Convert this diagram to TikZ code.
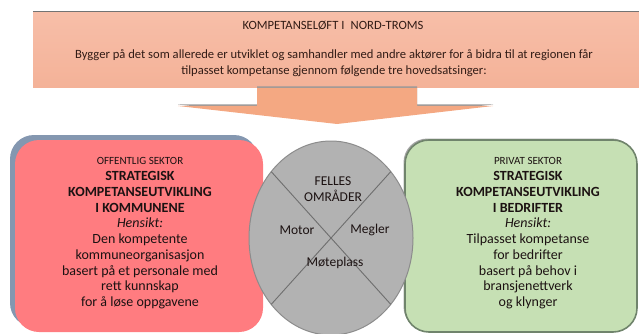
\documentclass[tikz,border=0pt]{standalone}
\usepackage{fontspec}
\setmainfont{Carlito}
\usetikzlibrary{shapes.geometric,shadows}
\definecolor{topfillA}{RGB}{247,190,168}
\definecolor{topfillB}{RGB}{244,178,152}
\definecolor{arrowfill}{RGB}{244,168,130}
\definecolor{redfill}{RGB}{255,124,128}
\definecolor{shadowblue}{RGB}{132,151,176}
\definecolor{greenfill}{RGB}{198,224,180}
\definecolor{greenborder}{RGB}{112,132,108}
\definecolor{circfill}{RGB}{178,178,178}
\definecolor{circborder}{RGB}{140,140,140}
\definecolor{xline}{RGB}{110,110,110}
\definecolor{toptxt}{RGB}{50,28,22}
\definecolor{boxtxt}{RGB}{28,18,18}
\tikzset{
  topbox/.style={rectangle, inner sep=0pt, outer sep=0pt, top color=topfillA, bottom color=topfillB,
    minimum width=606pt, minimum height=75pt,
    drop shadow={shadow xshift=0pt, shadow yshift=2pt, fill=black!55, opacity=1}},
  sidebox/.style={rectangle, rounded corners=24pt, inner sep=0pt, outer sep=0pt,
    minimum width=248pt, minimum height=192pt},
  boxtext/.style={align=center, text=boxtxt, inner sep=0pt, font=\fontsize{14}{15.75}\selectfont},
  toptext/.style={align=center, text=toptxt, inner sep=0pt, font=\fontsize{12.6}{15.5}\selectfont},
  circtext/.style={align=center, text=boxtxt, inner sep=0pt, font=\fontsize{13.5}{15.5}\selectfont},
  crossline/.style={draw=xline, line width=0.9pt},
}
\begin{document}
\begin{tikzpicture}[x=1pt,y=-1pt]
\useasboundingbox (0,0) rectangle (639,334);
% top box
\node[topbox] (top) at (336,50.5) {};
\node[toptext] (head) at (333,26) {KOMPETANSELØFT I\hspace{0.5em}NORD-TROMS};
\node[toptext] (body) at (334,63) {Bygger på det som allerede er utviklet og samhandler med andre aktører for å bidra til at regionen får\\tilpasset kompetanse gjennom følgende tre hovedsatsinger:};
% block arrow
\fill[black!40] (257,86.5) -- (417,86.5) -- (417,104.5) -- (493,104.5) -- (337,122.5) -- (178,104.5) -- (257,104.5) -- cycle;
\fill[arrowfill] (257,88) -- (417,88) -- (417,106) -- (493,106) -- (337,124) -- (178,106) -- (257,106) -- cycle;
% left box
\node[sidebox, fill=redfill, drop shadow={shadow xshift=-5pt, shadow yshift=5pt, fill=shadowblue, opacity=1}] (left) at (139,236) {};
\node[boxtext] (lefttext) at (140,233.5) {{\fontsize{11}{15.75}\selectfont OFFENTLIG SEKTOR}\\\textbf{STRATEGISK}\\\textbf{KOMPETANSEUTVIKLING}\\\textbf{I KOMMUNENE}\\\textit{Hensikt:}\\Den kompetente\\kommuneorganisasjon\\basert på et personale med\\rett kunnskap\\for å løse oppgavene};
% right box
\node[sidebox, minimum width=232pt, fill=greenfill, draw=greenborder, line width=1.6pt, drop shadow={shadow xshift=-1.5pt, shadow yshift=1.5pt, fill=black!45, opacity=0.8}] (right) at (521,236) {};
\node[boxtext] (righttext) at (528,233.5) {{\fontsize{11}{15.75}\selectfont PRIVAT SEKTOR}\\\textbf{STRATEGISK}\\\textbf{KOMPETANSEUTVIKLING}\\\textbf{I BEDRIFTER}\\\textit{Hensikt:}\\Tilpasset kompetanse\\for bedrifter\\basert på behov i\\bransjenettverk\\og klynger};
% central circle
\node[ellipse, inner sep=0pt, outer sep=0pt, minimum width=164pt, minimum height=194pt, fill=circfill, draw=circborder, line width=1pt] (circ) at (331,238) {};
\draw[crossline] (circ.132) -- (circ.312);
\draw[crossline] (circ.48) -- (circ.228);
\node[circtext] (felles) at (333,189) {FELLES\\OMRÅDER};
\node[circtext] (motor) at (297,230) {Motor};
\node[circtext] (megler) at (370,230) {Megler};
\node[circtext] (moteplass) at (335,263) {Møteplass};
\end{tikzpicture}
\end{document}
